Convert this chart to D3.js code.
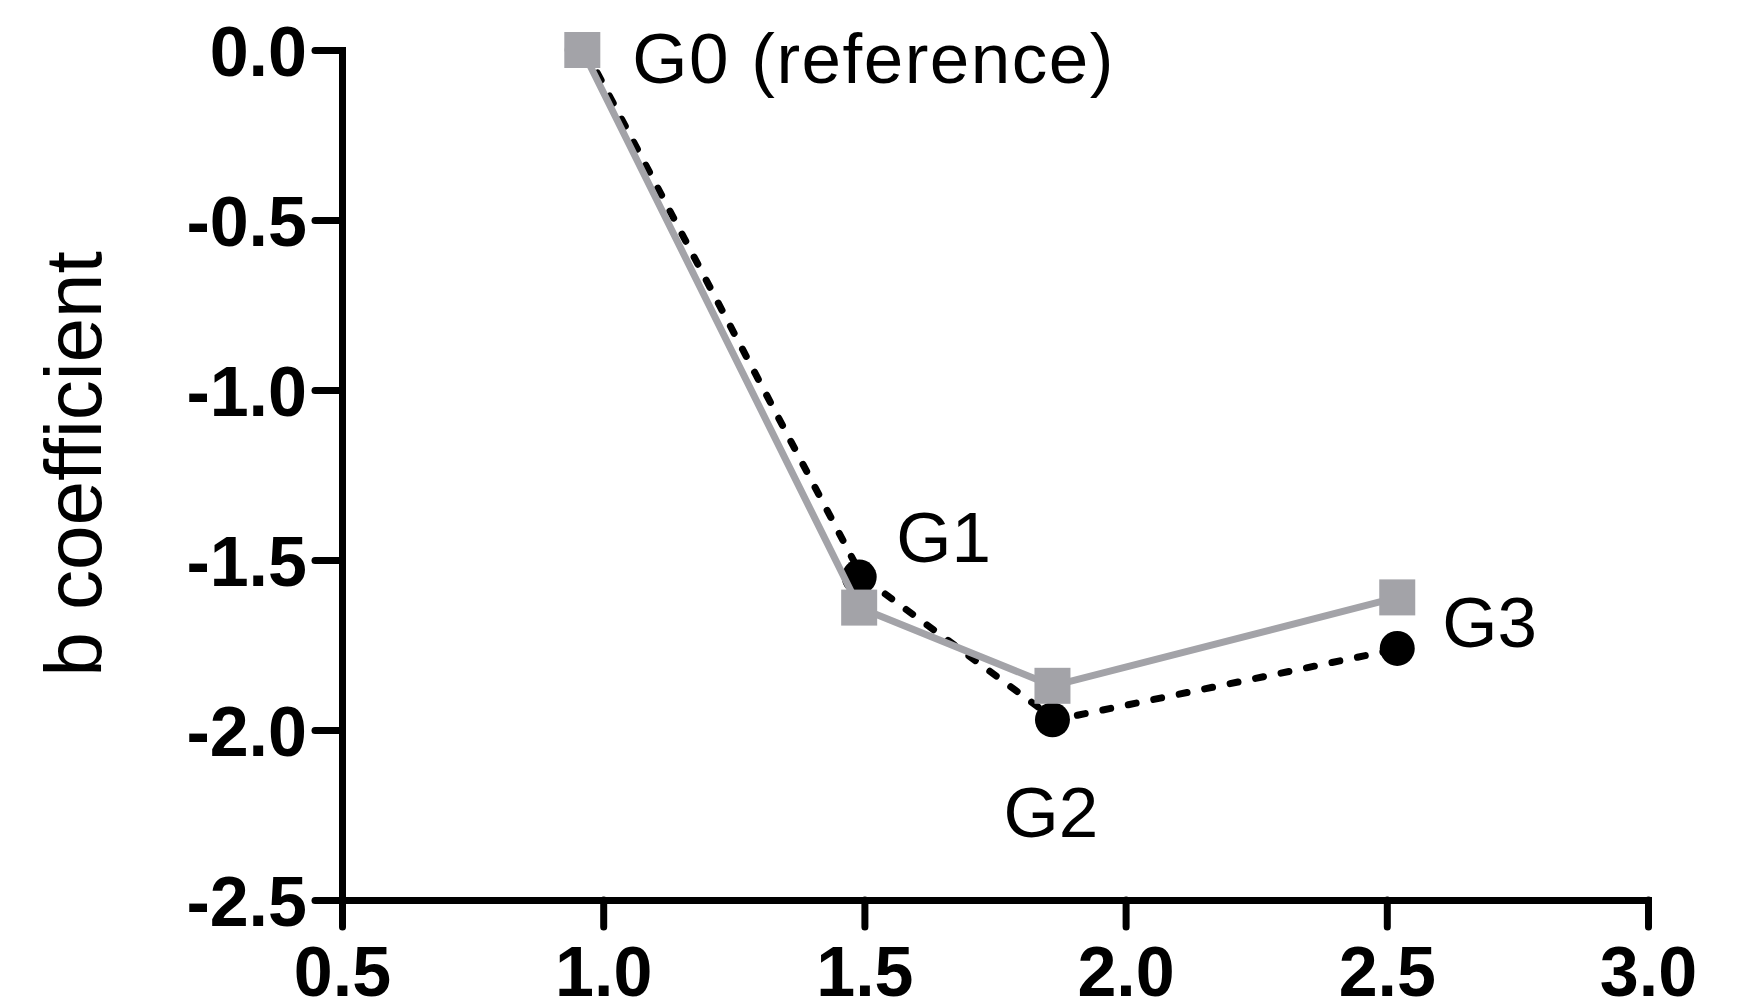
<!DOCTYPE html>
<html>
<head>
<meta charset="utf-8">
<script src="https://cdn.jsdelivr.net/npm/d3@7"></script>
<style>
body { margin: 0; background: #fff; }
</style>
</head>
<body>
<script>
// group names, x positions and the two b coefficient series
var groups = ["G0 (reference)", "G1", "G2", "G3"];
var xVals = [0.96, 1.49, 1.86, 2.52];
var greyVals = [0, -1.64, -1.87, -1.61];   // squares, solid grey line
var blackVals = [0, -1.55, -1.97, -1.76];  // circles, dashed black line
var xTicks = [0.5, 1.0, 1.5, 2.0, 2.5, 3.0];
var yTicks = [0, -0.5, -1.0, -1.5, -2.0, -2.5];

var width = 1743, height = 1008;
var grey = "#a3a3a8";

var svg = d3.select("body")
    .append("svg")
    .attr("width", width)
    .attr("height", height);

var x = d3.scaleLinear().domain([0.5, 3.0]).range([342, 1648]);
var y = d3.scaleLinear().domain([-2.5, 0]).range([900, 50]);

// axes
var xAxis = svg.append("g")
    .attr("transform", "translate(0," + y(-2.5) + ")")
    .call(d3.axisBottom(x).tickValues(xTicks).tickFormat(d3.format(".1f"))
        .tickSize(27).tickSizeOuter(0).tickPadding(19));
var yAxis = svg.append("g")
    .attr("transform", "translate(" + x(0.5) + ",0)")
    .call(d3.axisLeft(y).tickValues(yTicks).tickFormat(function(d){ return d3.format(".1f")(d).replace("−", "-"); })
        .tickSize(27).tickSizeOuter(0).tickPadding(8));

[xAxis, yAxis].forEach(function(a){
    a.select(".domain").attr("stroke", "#000").attr("stroke-width", 7).attr("stroke-linecap", "square");
    a.selectAll(".tick line").attr("stroke", "#000").attr("stroke-width", 7).attr("stroke-linecap", "round");
    a.selectAll(".tick text")
        .attr("fill", "#000")
        .style("font-family", "'Liberation Sans', Arial, sans-serif")
        .style("font-weight", "bold")
        .style("font-size", "70px");
});
xAxis.selectAll(".tick text").attr("dy", "0.71em");
yAxis.selectAll(".tick text").attr("dy", "0.36em");

// y axis title
svg.append("text")
    .attr("transform", "translate(101," + 464 + ") rotate(-90)")
    .attr("text-anchor", "middle")
    .style("font-family", "'Liberation Sans', Arial, sans-serif")
    .style("font-size", "80px")
    .text("b coefficient");

var pts = xVals.map(function(v, i){ return {x: v, g: greyVals[i], b: blackVals[i], name: groups[i]}; });

// dashed black series (drawn underneath)
svg.append("path")
    .datum(pts)
    .attr("fill", "none")
    .attr("stroke", "#000")
    .attr("stroke-width", 7)
    .attr("stroke-linecap", "round")
    .attr("stroke-dasharray", "8,18")
    .attr("d", d3.line().x(function(d){ return x(d.x) + 3; }).y(function(d){ return y(d.b); }));

svg.append("g")
    .selectAll("circle")
    .data(pts)
    .enter()
    .append("circle")
    .attr("cx", function(d){ return x(d.x); })
    .attr("cy", function(d){ return y(d.b); })
    .attr("r", 17.5)
    .attr("fill", "#000");

// solid grey series
svg.append("path")
    .datum(pts)
    .attr("fill", "none")
    .attr("stroke", grey)
    .attr("stroke-width", 7)
    .attr("d", d3.line().x(function(d){ return x(d.x); }).y(function(d){ return y(d.g); }));

svg.append("g")
    .selectAll("rect")
    .data(pts)
    .enter()
    .append("rect")
    .attr("x", function(d){ return x(d.x) - 18; })
    .attr("y", function(d){ return y(d.g) - 18; })
    .attr("width", 36)
    .attr("height", 36)
    .attr("fill", grey);

// group labels, nudged off the points
var nudge = [[50, 33], [37, -15], [-49, 117], [45, 50]];
svg.append("g")
    .selectAll("text")
    .data(pts)
    .enter()
    .append("text")
    .attr("x", function(d, i){ return x(d.x) + nudge[i][0]; })
    .attr("y", function(d, i){ return (i == 3 ? y(d.g) : y(d.b)) + nudge[i][1]; })
    .style("font-family", "'Liberation Sans', Arial, sans-serif")
    .style("font-size", "71px")
    .style("letter-spacing", function(d, i){ return i == 0 ? "1.5px" : "0px"; })
    .text(function(d){ return d.name; });
</script>
</body>
</html>
